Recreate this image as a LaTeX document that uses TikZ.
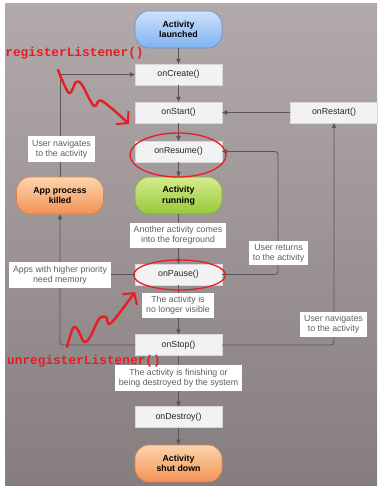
\documentclass[tikz,border=0pt]{standalone}
\usepackage{fontspec}
\setmainfont{Liberation Sans}
\newfontfamily\codefont{Liberation Mono}
\usetikzlibrary{arrows.meta}

\definecolor{bgtop}{RGB}{178,170,170}
\definecolor{bgbot}{RGB}{134,125,126}
\definecolor{linegray}{RGB}{90,86,88}
\definecolor{boxgray}{RGB}{242,242,242}
\definecolor{boxedge}{RGB}{215,215,215}
\definecolor{notegray}{RGB}{95,95,100}
\definecolor{annored}{RGB}{228,30,36}
\definecolor{bluetop}{RGB}{205,226,252}
\definecolor{bluebot}{RGB}{128,178,240}
\definecolor{blueedge}{RGB}{100,140,205}
\definecolor{greentop}{RGB}{214,236,140}
\definecolor{greenbot}{RGB}{150,200,60}
\definecolor{greenedge}{RGB}{130,170,60}
\definecolor{orangetop}{RGB}{253,212,172}
\definecolor{orangebot}{RGB}{244,146,84}
\definecolor{orangeedge}{RGB}{215,130,80}

\begin{document}
\begin{tikzpicture}[x=1pt,y=-1pt,
  lifeline/.style={draw=linegray,line width=0.8pt,rounded corners=3pt},
  flow/.style={lifeline,-{Triangle[length=5pt,width=4.5pt]}},
  callback/.style={fill=boxgray,draw=boxedge,line width=0.3pt,minimum width=87pt,
    minimum height=21pt,inner sep=0pt,text=black!85,font=\fontsize{8.8}{10}\selectfont},
  state/.style={rounded corners=14pt,minimum width=87pt,minimum height=37pt,inner sep=0pt,
    align=center,line width=0.6pt,font=\bfseries\fontsize{8.8}{10.5}\selectfont},
  note/.style={fill=white,text=notegray,align=center,inner xsep=4pt,inner ysep=3.5pt,
    font=\fontsize{8.8}{10}\selectfont},
  hint/.style={text=annored,inner sep=0pt,font=\codefont\bfseries\fontsize{12.8}{14}\selectfont},
  squiggle/.style={draw=annored,line width=2.4pt,line cap=round,line join=round,
    -{Straight Barb[length=8pt,width=18pt,line width=2pt]}}]
\useasboundingbox (0,0) rectangle (377,486);
% background:
\path[top color=bgtop,bottom color=bgbot] (5,4) rectangle (377,486);
% states and callbacks:
\node[state,top color=bluetop,bottom color=bluebot,draw=blueedge] (launched) at (178.5,29.5) {Activity\\launched};
\node[callback] (create) at (178.5,74.5) {onCreate()};
\node[callback] (start) at (178.5,112.5) {onStart()};
\node[callback] (restart) at (334,112.5) {onRestart()};
\node[callback] (resume) at (178.5,151.5) {onResume()};
\node[state,top color=greentop,bottom color=greenbot,draw=greenedge] (running) at (178.5,195.5) {Activity\\running};
\node[state,top color=orangetop,bottom color=orangebot,draw=orangeedge] (killed) at (60,195.5) {App process\\killed};
\node[callback] (pause) at (178.5,274.5) {onPause()};
\node[callback] (stop) at (178.5,345) {onStop()};
\node[callback] (destroy) at (178.5,417) {onDestroy()};
\node[state,top color=orangetop,bottom color=orangebot,draw=orangeedge] (shutdown) at (178.5,463.5) {Activity\\shut down};
% connectors:
\draw[flow] (launched) -- (create);
\draw[flow] (create) -- (start);
\draw[flow] (start) -- (resume);
\draw[flow] (resume) -- (running);
\draw[flow] (running) -- (pause);
\draw[flow] (pause) -- (stop);
\draw[flow] (stop) -- (destroy);
\draw[flow] (destroy) -- (shutdown);
\draw[flow] (restart) -- (start);
\draw[flow,rounded corners=0pt] (killed.north) |- (create.west);
\draw[flow] (stop.west) -| (killed.south);
\draw[lifeline] (pause.west) -- (killed.south |- pause.west);
\coordinate (backbend) at (278,151.5);
\draw[flow] (pause.east) -| (backbend) -- (resume.east);
\draw[flow] (stop.east) -| (restart.south);
% notes on the connectors:
\node[note] (navleft) at (61.5,149) {User navigates\\to the activity};
\node[note] (memory) at (60,275) {Apps with higher priority\\need memory};
\node[note] (foreground) at (178,235.5) {Another activity comes\\into the foreground};
\node[note] (returns) at (278.5,253) {User returns\\to the activity};
\node[note] (hidden) at (178,305.5) {The activity is\\no longer visible};
\node[note] (navright) at (333.5,324.5) {User navigates\\to the activity};
\node[note] (finishing) at (178.5,378) {The activity is finishing or\\being destroyed by the system};
% red annotations:
\node[hint] (register) at (74.5,53.5) {registerListener()};
\node[hint] (unregister) at (84,361.5) {unregisterListener()};
\draw[annored,line width=1.3pt] (178,155) ellipse [x radius=48, y radius=22];
\draw[annored,line width=1.3pt] (179.5,275) ellipse [x radius=46, y radius=15];
\draw[squiggle] plot[smooth,tension=0.6] coordinates {(58,70) (69,93) (76,82) (82,85) (94,106) (102,101) (129,124)};
\draw[squiggle] plot[smooth,tension=0.6] coordinates {(67,347) (73,328) (78,330) (84,342) (90,337) (99,319) (106,317) (111,323) (135,292)};
\end{tikzpicture}
\end{document}
